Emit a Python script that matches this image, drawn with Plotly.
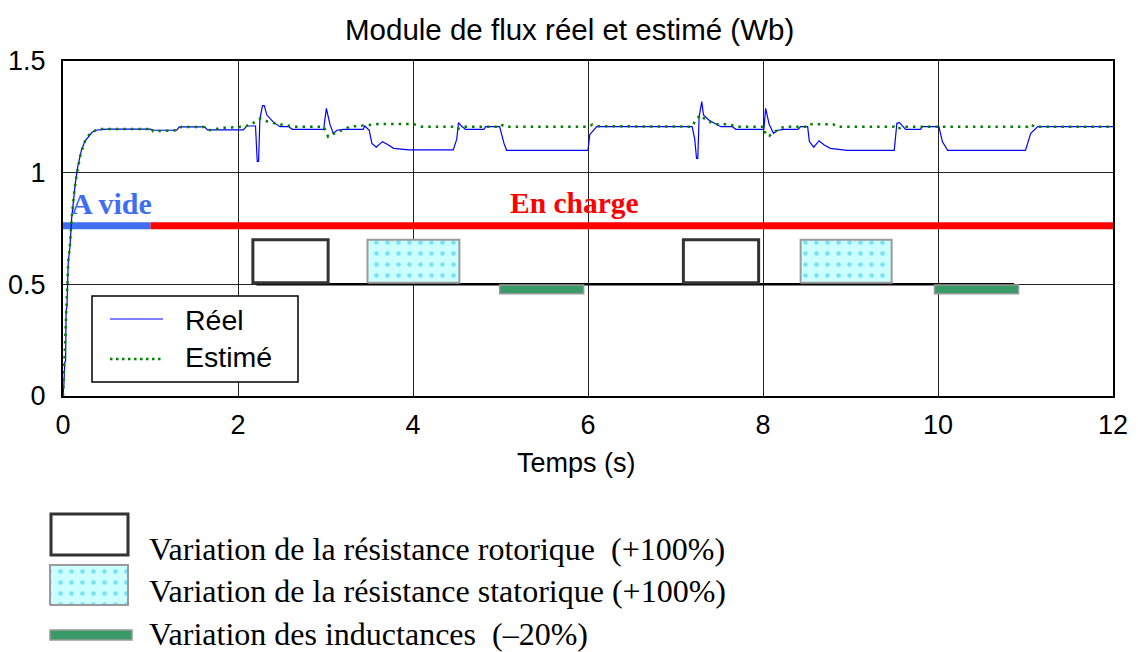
import plotly.graph_objects as go

# ---------------- data ----------------
t_reel = [0, 0.01, 0.02, 0.03, 0.035, 0.045, 0.06, 0.08, 0.10, 0.12, 0.14, 0.17, 0.21, 0.25, 0.29, 0.33, 0.37, 0.5,
          1.0, 1.02, 1.30, 1.33, 1.62, 1.65, 2.06, 2.10, 2.20, 2.22, 2.235, 2.25, 2.28, 2.30, 2.33, 2.41, 2.48, 2.58,
          2.62, 2.98, 2.99, 3.01, 3.05, 3.09, 3.13, 3.20, 3.43, 3.45, 3.50, 3.53, 3.58, 3.65, 3.70, 3.78, 3.95,
          4.46, 4.50, 4.52, 4.55, 4.60, 4.81, 4.83, 4.99, 5.02, 5.04, 5.07, 6.0, 6.02, 6.10, 7.19, 7.22, 7.24, 7.255,
          7.27, 7.29, 7.30, 7.32, 7.38, 7.46, 7.52, 7.65, 7.69, 8.01, 8.02, 8.03, 8.07, 8.12, 8.17, 8.24, 8.40, 8.43,
          8.51, 8.53, 8.58, 8.64, 8.70, 8.77, 8.96, 9.50, 9.53, 9.56, 9.63, 9.80, 9.82, 10.01, 10.05, 10.11, 11.0,
          11.06, 11.14, 12.0]
y_reel = [0, 0.05, 0.15, 0.16, 0.38, 0.40, 0.60, 0.67, 0.80, 0.88, 0.95, 1.03, 1.10, 1.14, 1.16, 1.18, 1.19, 1.195,
          1.195, 1.19, 1.19, 1.205, 1.205, 1.192, 1.192, 1.209, 1.209, 1.05, 1.05, 1.24, 1.30, 1.30, 1.258, 1.224, 1.206, 1.206,
          1.194, 1.194, 1.23, 1.288, 1.217, 1.176, 1.19, 1.194, 1.194, 1.209, 1.19, 1.131, 1.114, 1.139, 1.128, 1.109, 1.102,
          1.102, 1.15, 1.224, 1.21, 1.194, 1.194, 1.206, 1.206, 1.16, 1.131, 1.10, 1.10, 1.17, 1.206, 1.206, 1.15, 1.064, 1.064,
          1.25, 1.31, 1.318, 1.258, 1.236, 1.218, 1.206, 1.206, 1.194, 1.194, 1.27, 1.288, 1.217, 1.176, 1.19, 1.194, 1.194, 1.206,
          1.206, 1.139, 1.114, 1.143, 1.124, 1.109, 1.10, 1.10, 1.221, 1.224, 1.194, 1.194, 1.206, 1.206, 1.139, 1.10, 1.10,
          1.176, 1.206, 1.206]

t_est = [0, 0.01, 0.02, 0.03, 0.04, 0.06, 0.08, 0.10, 0.13, 0.16, 0.20, 0.25, 0.30, 0.35, 0.40, 1.0, 1.01, 1.03,
         1.30, 1.35, 1.62, 1.68, 1.80, 2.06, 2.15, 2.20, 2.26, 2.33, 2.45, 2.56, 2.65, 2.98, 3.01, 3.03, 3.07, 3.15,
         3.28, 3.50, 3.60, 4.00, 4.10, 4.45, 4.50, 4.58, 4.95, 5.0, 5.05, 6.0, 6.05, 6.12, 7.19, 7.22, 7.25, 7.28,
         7.32, 7.38, 7.45, 7.60, 7.70, 8.01, 8.03, 8.07, 8.12, 8.20, 8.27, 8.50, 8.53, 8.80, 8.85, 9.50, 9.53, 9.60,
         11.02, 11.06, 11.10, 12.0]
y_est = [0, 0.10, 0.20, 0.35, 0.42, 0.60, 0.68, 0.80, 0.92, 1.0, 1.08, 1.14, 1.17, 1.185, 1.195, 1.195, 1.20, 1.185,
         1.19, 1.205, 1.205, 1.19, 1.20, 1.206, 1.215, 1.23, 1.243, 1.23, 1.218, 1.213, 1.206, 1.206, 1.175, 1.161, 1.17, 1.185,
         1.206, 1.213, 1.218, 1.218, 1.206, 1.206, 1.194, 1.206, 1.206, 1.217, 1.206, 1.206, 1.215, 1.208, 1.206, 1.228, 1.243, 1.258,
         1.245, 1.23, 1.217, 1.217, 1.206, 1.206, 1.169, 1.164, 1.18, 1.20, 1.206, 1.206, 1.217, 1.217, 1.206, 1.206, 1.194, 1.206,
         1.206, 1.217, 1.206, 1.206]

x_ticks = [0, 2, 4, 6, 8, 10, 12]
y_ticks = [0, 0.5, 1, 1.5]

# operating phases (time intervals) and their level
phase_noload = [0.0, 1.0]
phase_load = [1.0, 12.0]
phase_level = 0.762

# parameter variations (time intervals)
rotor_events = [(2.17, 3.03), (7.09, 7.95)]
stator_events = [(3.48, 4.53), (8.43, 9.47)]
induct_events = [(4.99, 5.95), (9.96, 10.92)]
event_baseline = [2.21, 10.87]
event_base_level = 0.5
box_low, box_high = 0.507, 0.700
bar_low, bar_high = 0.458, 0.497

W, H = 1138, 652
SANS = "Liberation Sans, Arial, sans-serif"
SERIF = "Liberation Serif, Times New Roman, serif"
PATTERN = dict(shape=".", fgcolor="#22c4f0", bgcolor="#ccffff", size=11, solidity=0.14)


def xp(px):
    return px / W


def yp(py):
    return 1 - py / H


fig = go.Figure()

# stator variation boxes (patterned)
for a, b in stator_events:
    fig.add_trace(go.Scatter(
        x=[a, b, b, a, a], y=[box_low, box_low, box_high, box_high, box_low],
        mode="lines", fill="toself", fillcolor="#ccffff", fillpattern=PATTERN,
        line=dict(color="#9a9a9a", width=2), showlegend=False, hoverinfo="skip"))

# curves
fig.add_trace(go.Scatter(x=t_reel, y=y_reel, mode="lines", name="Réel",
                         line=dict(color="#0000ff", width=1.2), showlegend=False))
fig.add_trace(go.Scatter(x=t_est, y=y_est, mode="lines", name="Estimé",
                         line=dict(color="#008000", width=2.5, dash="2.5px,5px"), showlegend=False))

# stator legend icon in pixel subplot
fig.add_trace(go.Scatter(
    x=[50, 128, 128, 50, 50], y=[605, 605, 565, 565, 605],
    mode="lines", fill="toself", fillcolor="#ccffff", fillpattern=PATTERN,
    line=dict(color="#9a9a9a", width=2), showlegend=False, hoverinfo="skip",
    xaxis="x2", yaxis="y2"))

shapes = []
# phase bars
shapes.append(dict(type="line", xref="x", yref="y", x0=phase_noload[0], x1=phase_noload[1],
                   y0=phase_level, y1=phase_level, line=dict(color="#3f6ff0", width=7), layer="between"))
shapes.append(dict(type="line", xref="x", yref="y", x0=phase_load[0], x1=phase_load[1],
                   y0=phase_level, y1=phase_level, line=dict(color="#ff0000", width=7), layer="between"))
# baseline
shapes.append(dict(type="line", xref="x", yref="y", x0=event_baseline[0], x1=event_baseline[1],
                   y0=event_base_level, y1=event_base_level, line=dict(color="#000000", width=2.5), layer="between"))
# rotor boxes
for a, b in rotor_events:
    shapes.append(dict(type="rect", xref="x", yref="y", x0=a, x1=b, y0=box_low, y1=box_high,
                       line=dict(color="#333333", width=3), fillcolor="white", layer="between"))
# inductance bars
for a, b in induct_events:
    shapes.append(dict(type="rect", xref="x", yref="y", x0=a, x1=b, y0=bar_low, y1=bar_high,
                       line=dict(color="#9a9a9a", width=1.5), fillcolor="#3a9a68", layer="between"))

# in-plot legend
shapes.append(dict(type="rect", xref="paper", yref="paper", x0=xp(92), x1=xp(298), y0=yp(382), y1=yp(296),
                   line=dict(color="black", width=1.5), fillcolor="white", layer="above"))
shapes.append(dict(type="line", xref="paper", yref="paper", x0=xp(110), x1=xp(163), y0=yp(319), y1=yp(319),
                   line=dict(color="#0000ff", width=1.2), layer="above"))
shapes.append(dict(type="line", xref="paper", yref="paper", x0=xp(110), x1=xp(161), y0=yp(359), y1=yp(359),
                   line=dict(color="#008000", width=2.5, dash="2.5px,3.5px"), layer="above"))

# bottom legend icons
shapes.append(dict(type="rect", xref="paper", yref="paper", x0=xp(51), x1=xp(128), y0=yp(555), y1=yp(514),
                   line=dict(color="#333333", width=3), fillcolor="white"))
shapes.append(dict(type="rect", xref="paper", yref="paper", x0=xp(50), x1=xp(132), y0=yp(640), y1=yp(630),
                   line=dict(color="#9a9a9a", width=1.5), fillcolor="#3a9a68"))

annotations = [
    dict(text="Module de flux réel et estimé (Wb)", xref="paper", yref="paper", x=xp(569), y=yp(30),
         showarrow=False, font=dict(family=SANS, size=29.5, color="black"), xanchor="center", yanchor="middle"),
    dict(text="Temps (s)", xref="paper", yref="paper", x=xp(577), y=yp(463),
         showarrow=False, font=dict(family=SANS, size=27, color="black"), xanchor="center", yanchor="middle"),
    dict(text="<b>A vide</b>", xref="x", yref="y", x=0.07, y=0.862, showarrow=False,
         font=dict(family=SERIF, size=30, color="#3f6ff0"), xanchor="left", yanchor="middle"),
    dict(text="<b>En charge</b>", xref="x", yref="y", x=5.85, y=0.862, showarrow=False,
         font=dict(family=SERIF, size=29.5, color="#ff0000"), xanchor="center", yanchor="middle"),
    dict(text="Réel", xref="paper", yref="paper", x=xp(183), y=yp(320), showarrow=False,
         font=dict(family=SANS, size=28.5, color="black"), xanchor="left", yanchor="middle"),
    dict(text="Estimé", xref="paper", yref="paper", x=xp(183), y=yp(357), showarrow=False,
         font=dict(family=SANS, size=28.5, color="black"), xanchor="left", yanchor="middle"),
    dict(text="Variation de la résistance rotorique\u00a0 (+100%)", xref="paper", yref="paper",
         x=xp(147), y=yp(549), showarrow=False, font=dict(family=SERIF, size=32, color="black"),
         xanchor="left", yanchor="middle"),
    dict(text="Variation de la résistance statorique (+100%)", xref="paper", yref="paper",
         x=xp(147), y=yp(591), showarrow=False, font=dict(family=SERIF, size=32, color="black"),
         xanchor="left", yanchor="middle"),
    dict(text="Variation des inductances\u00a0 (\u201320%)", xref="paper", yref="paper",
         x=xp(147), y=yp(634), showarrow=False, font=dict(family=SERIF, size=32, color="black"),
         xanchor="left", yanchor="middle"),
]

fig.update_layout(
    width=W, height=H, margin=dict(l=0, r=0, t=0, b=0),
    paper_bgcolor="white", plot_bgcolor="white", showlegend=False,
    shapes=shapes, annotations=annotations,
    xaxis=dict(domain=[xp(63), xp(1113)], range=[0, 12], tickvals=x_ticks, ticktext=[str(v) for v in x_ticks],
               showgrid=True, gridcolor="#222222", gridwidth=1, zeroline=False,
               showline=True, linecolor="black", linewidth=2, mirror=True, ticks="",
               tickfont=dict(family=SANS, size=27, color="black"), ticklabelstandoff=4, automargin=False),
    yaxis=dict(domain=[yp(396), yp(61)], range=[0, 1.5], tickvals=y_ticks, ticktext=["0", "0.5", "1", "1.5"],
               showgrid=True, gridcolor="#222222", gridwidth=1, zeroline=False,
               showline=True, linecolor="black", linewidth=2, mirror=True, ticks="",
               tickfont=dict(family=SANS, size=27, color="black"), ticklabelstandoff=10, automargin=False),
    xaxis2=dict(domain=[0, 1], range=[0, W], visible=False, anchor="y2"),
    yaxis2=dict(domain=[0, yp(500)], range=[H, 500], visible=False, anchor="x2"),
)

fig.write_html("out.html")
